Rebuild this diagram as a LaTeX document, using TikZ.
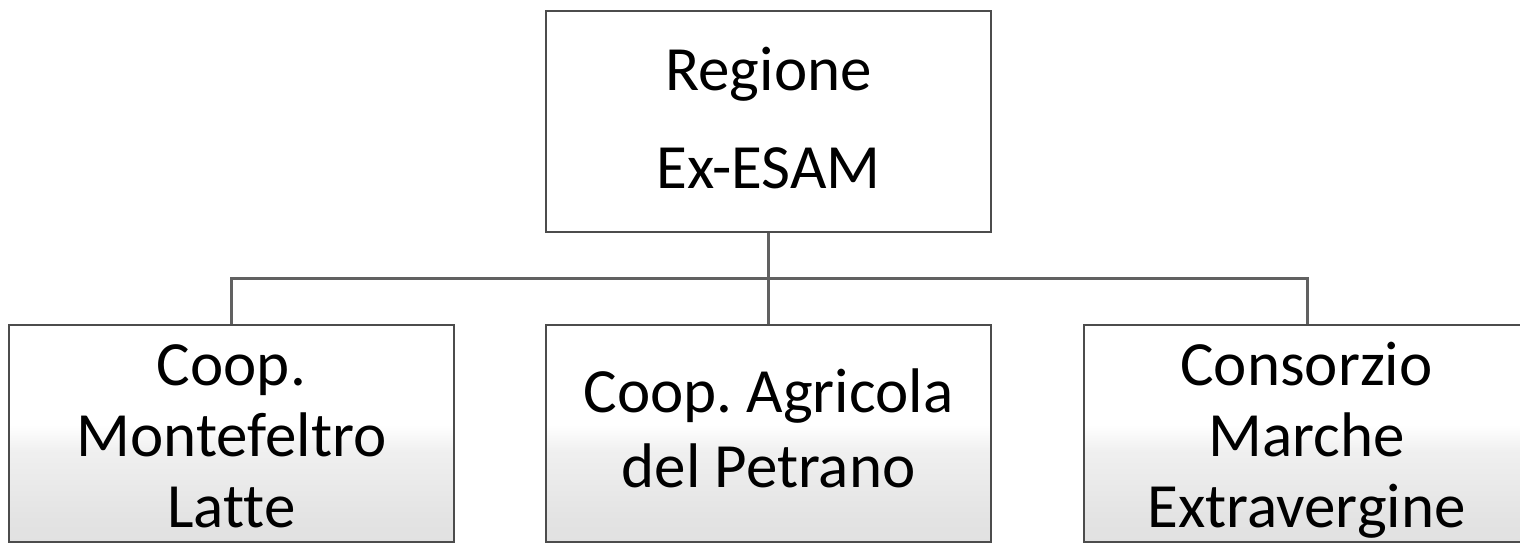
\documentclass[tikz,border=0pt]{standalone}
\usepackage{fontspec}
\setmainfont{Carlito}[Ligatures=NoCommon]
\frenchspacing
\pgfdeclareverticalshading{boxshade}{100bp}{color(0bp)=(black!15); color(30bp)=(black!11); color(46bp)=(black!6); color(52bp)=(white); color(100bp)=(white)}
\pgfdeclareverticalshading{topshade}{100bp}{color(0bp)=(black!9); color(12bp)=(black!5); color(16bp)=(white); color(100bp)=(white)}
\tikzset{
  orgbox/.style={draw=black!70, line width=1pt, shading=boxshade, rectangle, inner sep=0pt,
    minimum width=222.5pt, minimum height=108.5pt, align=center, text=black, text depth=0pt},
  topbox/.style={orgbox, shading=topshade, minimum height=110.5pt,
    font=\fontsize{31.5}{49}\selectfont, text height=66.5pt},
  threeline/.style={font=\fontsize{31.5}{35.5}\selectfont, text height=93.5pt},
  twoline/.style={font=\fontsize{31.5}{37.5}\selectfont, text height=53.5pt},
  conn/.style={draw=black!62, line width=1.5pt}
}
\begin{document}
\begin{tikzpicture}[x=0.5pt, y=-0.5pt]
\useasboundingbox (0,0) rectangle (1520,547);
\clip (0,0) rectangle (1520,547);
\fill[white] (0,0) rectangle (1520,547);
\coordinate (busL) at (231,278);
\coordinate (busR) at (1307,278);
\node[topbox] (top) at (768.5,121.5) {Regione\\Ex-ESAM};
\node[orgbox, threeline] (left) at (231.5,433.5) {Coop.\\Montefeltro\\Latte};
\node[orgbox, twoline] (mid) at (768.5,433.5) {Coop. Agricola\\del Petrano};
\node[orgbox, threeline] (right) at (1306.5,433.5) {Consorzio\\Marche\\Extravergine};
\draw[conn] (top.south) -- (mid.north);
\draw[conn] (busL |- left.north) -- (busL) -- (busR) -- (busR |- right.north);
\end{tikzpicture}
\end{document}
